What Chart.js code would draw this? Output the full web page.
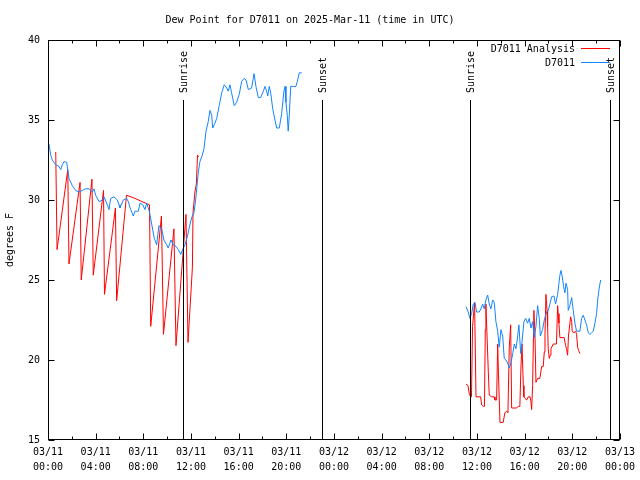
<!DOCTYPE html>
<html>
<head>
<meta charset="utf-8">
<script src="https://cdn.jsdelivr.net/npm/chart.js@4.4.1/dist/chart.umd.min.js"></script>
<style>
  html, body { margin: 0; padding: 0; background: #fff; }
  #wrap { width: 640px; height: 480px; }
</style>
</head>
<body>
<div id="wrap"><canvas id="dewChart"></canvas></div>
<script>
// hours since 03/11 00:00 UTC
const dayLabels = ['03/11', '03/12', '03/13'];

// D7011 observations, day 1
const obsHours1 = [0.08, 0.23, 0.36, 0.65, 0.92, 1.07, 1.20, 1.34, 1.57, 1.76, 2.04, 2.32, 2.60, 2.88, 3.16, 3.44, 3.58, 3.72, 3.86, 4.00,
  4.28, 4.56, 4.70, 4.98, 5.12, 5.26, 5.54, 5.82, 5.96, 6.04, 6.32, 6.60, 6.74, 6.94, 7.16, 7.30, 7.58, 7.72, 7.95, 8.14,
  8.28, 8.50, 8.70, 8.92, 9.12, 9.31, 9.54, 9.73, 9.96, 10.09, 10.32, 10.51, 10.74, 10.93, 11.14, 11.30, 11.50, 11.69, 11.86, 12.06,
  12.25, 12.39, 12.48, 12.61, 12.75, 12.95, 13.09, 13.26, 13.45, 13.59, 13.74, 13.82, 14.01, 14.16, 14.37, 14.58, 14.79, 15.00, 15.13, 15.27,
  15.41, 15.63, 15.83, 16.05, 16.25, 16.45, 16.62, 16.81, 17.09, 17.29, 17.45, 17.65, 17.85, 18.07, 18.21, 18.35, 18.44, 18.57, 18.69, 18.86,
  19.05, 19.19, 19.41, 19.61, 19.80, 19.89, 19.97, 20.08, 20.16, 20.25, 20.37, 20.58, 20.81, 20.92, 21.09, 21.29];
const obsDew1 = [33.5, 32.8, 32.5, 32.2, 32.1, 31.9, 32.2, 32.4, 32.35, 31.35, 30.9, 30.6, 30.5, 30.6, 30.7, 30.7, 30.6, 30.5, 30.7, 30.3,
  29.9, 30.0, 30.2, 29.7, 29.4, 30.1, 30.2, 30.0, 29.7, 29.5, 30.0, 30.1, 29.9, 29.4, 29.0, 29.3, 29.3, 29.8, 29.7, 29.4,
  29.8, 29.3, 28.5, 27.6, 27.2, 28.4, 28.2, 27.5, 27.2, 27.0, 27.5, 27.2, 27.1, 26.9, 26.6, 26.9, 27.2, 27.7, 28.3, 28.9,
  29.2, 30.0, 30.7, 31.7, 32.4, 32.8, 33.2, 34.3, 34.9, 35.6, 35.3, 34.5, 34.8, 35.1, 35.9, 36.7, 37.2, 37.0, 36.8, 37.2,
  36.7, 35.9, 36.1, 36.6, 37.4, 37.6, 37.5, 36.9, 37.0, 37.9, 37.1, 36.4, 36.4, 36.8, 37.1, 36.8, 36.5, 37.1, 36.7, 35.7,
  35.0, 34.5, 34.5, 35.4, 36.8, 37.1, 36.1, 35.3, 34.3, 35.3, 37.1, 37.1, 37.1, 37.4, 37.95, 37.95];

// D7011 observations, day 2
const obsHours2 = [35.08, 35.27, 35.41, 35.55, 35.69, 35.83, 35.97, 36.19, 36.33, 36.48, 36.61, 36.75, 36.90, 37.03, 37.17, 37.32, 37.45, 37.59, 37.74, 37.87,
  38.01, 38.16, 38.29, 38.43, 38.58, 38.71, 38.85, 39.00, 39.13, 39.27, 39.38, 39.52, 39.67, 39.80, 39.94, 40.09, 40.25, 40.39, 40.53, 40.67,
  40.81, 40.95, 41.09, 41.23, 41.32, 41.51, 41.65, 41.85, 41.98, 42.12, 42.27, 42.46, 42.60, 42.77, 42.88, 42.96, 43.05, 43.16, 43.27, 43.38,
  43.47, 43.61, 43.66, 43.80, 43.95, 44.08, 44.22, 44.36, 44.64, 44.78, 44.92, 45.06, 45.20, 45.34, 45.48, 45.62, 45.76, 45.90, 46.04, 46.13,
  46.26, 46.38];
const obsDew2 = [23.33, 23.0, 22.6, 22.9, 23.5, 23.6, 23.0, 23.0, 23.2, 23.5, 23.2, 23.75, 24.06, 23.5, 23.2, 23.75, 23.6, 22.4, 21.8, 20.8,
  21.9, 21.5, 20.1, 20.0, 19.8, 19.5, 19.8, 20.4, 21.0, 20.7, 21.25, 22.2, 20.4, 21.25, 22.4, 22.6, 22.3, 22.6, 22.0, 22.4,
  21.4, 22.1, 23.4, 22.6, 21.5, 21.9, 22.5, 23.0, 23.1, 23.5, 23.96, 24.0, 23.5, 24.1, 24.8, 25.3, 25.6, 25.2, 24.6, 24.2,
  24.8, 24.4, 23.1, 23.4, 23.9, 23.1, 22.3, 21.8, 21.8, 22.6, 22.8, 22.5, 22.2, 21.7, 21.6, 21.7, 21.8, 22.3, 22.9, 23.75,
  24.5, 25.0];

// D7011 Analysis, day 1
const anaHours1 = [0.65, 0.76, 1.66, 1.76, 2.69, 2.79, 3.69, 3.80, 4.66, 4.74, 5.66, 5.76, 6.59, 7.30, 7.89, 8.52, 8.62, 9.52, 9.69, 10.57,
  10.74, 11.58, 11.75, 12.12, 12.17, 12.33, 12.45, 12.55, 12.65];
const anaDew1 = [33.0, 26.9, 31.9, 26.0, 31.1, 25.0, 31.3, 25.3, 30.6, 24.1, 29.5, 23.7, 30.3, 30.1, 29.9, 29.7, 22.1, 29.0, 21.6, 28.2,
  20.9, 29.1, 21.1, 25.8, 29.2, 30.5, 31.0, 32.8, 32.7];

// D7011 Analysis, day 2
const anaHours2 = [35.08, 35.25, 35.35, 35.47, 35.54, 35.63, 35.80, 35.92, 36.31, 36.39, 36.53, 36.63, 36.70, 36.75, 36.95, 37.03, 37.23, 37.43, 37.51, 37.65,
  37.74, 37.79, 37.93, 38.20, 38.34, 38.49, 38.60, 38.71, 38.83, 38.91, 39.33, 39.46, 39.60, 39.69, 39.78, 39.89, 39.94, 40.03, 40.17, 40.30,
  40.45, 40.53, 40.59, 40.67, 40.78, 40.87, 40.95, 41.09, 41.28, 41.37, 41.43, 41.56, 41.65, 41.71, 41.79, 41.88, 41.93, 41.98, 42.07, 42.15,
  42.21, 42.40, 42.67, 42.77, 42.82, 42.88, 42.96, 43.32, 43.44, 43.52, 43.61, 43.68, 43.86, 43.95, 43.99, 44.14, 44.28, 44.36, 44.45, 44.53,
  44.64];
const anaDew2 = [18.5, 18.4, 17.9, 17.7, 17.7, 22.1, 23.6, 17.7, 17.7, 17.2, 17.1, 17.1, 21.9, 23.5, 19.3, 17.8, 17.7, 17.7, 17.5, 17.5,
  21.0, 19.5, 16.1, 16.1, 16.7, 16.8, 16.7, 20.8, 22.2, 17.0, 17.0, 17.1, 17.1, 19.5, 21.0, 18.4, 17.7, 17.6, 17.5, 17.7,
  17.7, 17.4, 16.9, 18.4, 23.1, 21.5, 18.6, 18.85, 18.85, 19.3, 19.6, 19.6, 20.5, 21.6, 24.1, 23.1, 22.1, 20.7, 20.1, 20.3,
  20.7, 21.0, 21.0, 23.4, 22.9, 22.3, 21.4, 21.4, 20.9, 20.7, 20.3, 21.5, 22.7, 22.4, 21.8, 21.7, 21.8, 21.6, 20.8, 20.6,
  20.4];

// sunrise / sunset markers
const sunHours = [11.33, 22.99, 35.41, 47.16];
const sunLabels = ['Sunrise', 'Sunset', 'Sunrise', 'Sunset'];

const FONT = '"DejaVu Sans Mono", "Liberation Mono", monospace';
const RED = '#ff0000';
const BLUE = '#1484ff';

const toPoints = (hrs, vals) => hrs.map((h, i) => ({ x: h, y: vals[i] }));
const gap = { x: 24, y: null };

const pad2 = n => (n < 10 ? '0' : '') + n;

// frame, inward ticks, sun lines, legend
const decorations = {
  id: 'decorations',
  afterDatasetsDraw(chart) {
    const { ctx, chartArea: a, scales: { x, y } } = chart;
    ctx.save();
    ctx.strokeStyle = '#000';
    ctx.lineWidth = 1;
    const L = Math.round(a.left) + 0.5, R = Math.round(a.right) - 0.5;
    const T = Math.round(a.top) + 0.5, B = Math.round(a.bottom) - 0.5;

    ctx.beginPath();
    // x ticks every 2 hours, longer at labelled 4-hour ticks
    for (let h = 0; h <= 48; h += 2) {
      const px = Math.round(x.getPixelForValue(h)) + 0.5;
      const len = h % 4 === 0 ? 6 : 3;
      ctx.moveTo(px, B); ctx.lineTo(px, B - len);
      ctx.moveTo(px, T); ctx.lineTo(px, T + len);
    }
    for (let v = 15; v <= 40; v += 5) {
      const py = Math.round(y.getPixelForValue(v)) + 0.5;
      ctx.moveTo(L, py); ctx.lineTo(L + 6, py);
      ctx.moveTo(R, py); ctx.lineTo(R - 6, py);
    }
    ctx.stroke();
    ctx.strokeRect(L, T, R - L, B - T);

    // sunrise / sunset
    ctx.font = '10px ' + FONT;
    ctx.fillStyle = '#000';
    sunHours.forEach((h, i) => {
      const px = Math.round(x.getPixelForValue(h)) + 0.5;
      ctx.beginPath();
      ctx.moveTo(px, 100);
      ctx.lineTo(px, B);
      ctx.stroke();
      ctx.save();
      ctx.translate(px + 1, 93);
      ctx.rotate(-Math.PI / 2);
      ctx.textAlign = 'left';
      ctx.textBaseline = 'middle';
      ctx.fillText(sunLabels[i], 0, 0);
      ctx.restore();
    });

    // legend
    const items = [['D7011 Analysis', RED, 49], ['D7011', BLUE, 63]];
    ctx.textAlign = 'right';
    ctx.textBaseline = 'middle';
    items.forEach(([label, color, ly]) => {
      ctx.fillStyle = '#000';
      ctx.fillText(label, 575, ly);
      ctx.strokeStyle = color;
      ctx.beginPath();
      ctx.moveTo(581, ly - 0.5);
      ctx.lineTo(610, ly - 0.5);
      ctx.stroke();
    });
    ctx.restore();
  }
};

const ctx = document.getElementById('dewChart').getContext('2d');
const dewChart = new Chart(ctx, {
  type: 'line',
  data: {
    datasets: [
      {
        label: 'D7011',
        data: [...toPoints(obsHours1, obsDew1), gap, ...toPoints(obsHours2, obsDew2)],
        borderColor: BLUE,
        borderWidth: 1,
        pointRadius: 0,
        order: 0
      },
      {
        label: 'D7011 Analysis',
        data: [...toPoints(anaHours1, anaDew1), gap, ...toPoints(anaHours2, anaDew2)],
        borderColor: RED,
        borderWidth: 1,
        pointRadius: 0,
        order: 1
      }
    ]
  },
  options: {
    responsive: true,
    maintainAspectRatio: false,
    animation: false,
    devicePixelRatio: 1,
    spanGaps: false,
    layout: { padding: { left: 0, right: 20, top: 0, bottom: 0 } },
    plugins: {
      legend: { display: false },
      tooltip: { enabled: false },
      title: {
        display: true,
        text: 'Dew Point for D7011 on 2025-Mar-11 (time in UTC)',
        color: '#000',
        font: { family: FONT, size: 10, weight: 'normal', lineHeight: 1.2 },
        padding: { top: 14, bottom: 14 }
      }
    },
    scales: {
      x: {
        type: 'linear',
        min: 0,
        max: 48,
        afterFit: s => { s.height = 40; },
        grid: { display: false, drawTicks: false },
        border: { display: false },
        ticks: {
          stepSize: 4,
          autoSkip: false,
          maxRotation: 0,
          padding: 5,
          color: '#000',
          font: { family: FONT, size: 10, lineHeight: 1.5 },
          callback: v => [dayLabels[Math.floor(v / 24)], pad2(v % 24) + ':00']
        }
      },
      y: {
        min: 15,
        max: 40,
        afterFit: s => { s.width = 48; },
        grid: { display: false, drawTicks: false },
        border: { display: false },
        title: {
          display: true,
          text: 'degrees F',
          color: '#000',
          font: { family: FONT, size: 10, lineHeight: 1.2 },
          padding: { top: 4, bottom: 0 }
        },
        ticks: {
          stepSize: 5,
          padding: 8,
          color: '#000',
          font: { family: FONT, size: 10 }
        }
      }
    }
  },
  plugins: [decorations]
});
</script>
</body>
</html>
